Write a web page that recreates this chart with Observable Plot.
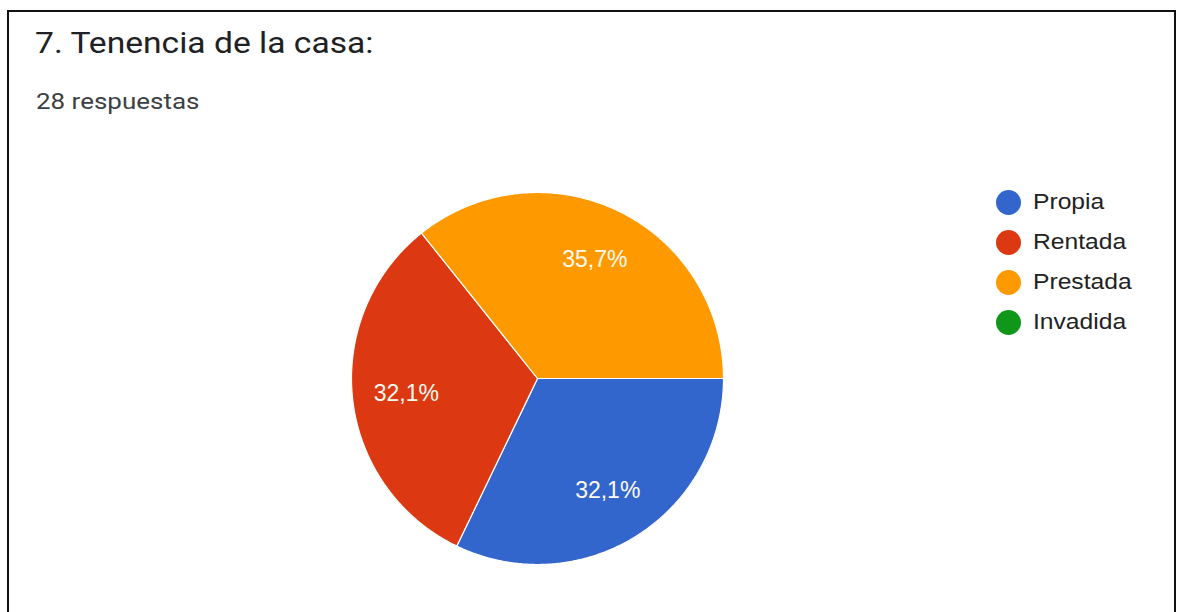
<!DOCTYPE html>
<html>
<head>
<meta charset="utf-8">
<script src="https://cdn.jsdelivr.net/npm/d3@7"></script>
<script src="https://cdn.jsdelivr.net/npm/@observablehq/plot@0.6"></script>
<style>
  html, body { margin: 0; padding: 0; background: #fff; width: 1178px; height: 612px; overflow: hidden; }
  body { position: relative; font-family: Roboto, "Noto Sans", Arial, sans-serif; }
  #frame { position: absolute; left: 7px; top: 10px; width: 1169px; height: 620px; border: 2px solid #111; border-bottom: none; box-sizing: border-box; }
  #title { position: absolute; left: 35px; top: 25px; font-size: 30px; line-height: 1.172; color: #202124; white-space: nowrap; transform: scaleX(1.12); transform-origin: left top; }
  #subtitle { position: absolute; left: 36px; top: 89px; font-size: 22px; line-height: 1.172; color: #3c4043; white-space: nowrap; transform: scaleX(1.18); transform-origin: left top; }
  #chart { position: absolute; left: 0; top: 0; }
  #legend { position: absolute; left: 996px; top: 182px; }
  .item { display: flex; align-items: center; height: 40px; }
  .sw { width: 25px; height: 25px; border-radius: 50%; margin-right: 12px; }
  .lt { font-family: "Liberation Sans", Arial, sans-serif; font-size: 22px; color: #222; display: inline-block; transform: scaleX(1.12); transform-origin: left center; }
</style>
</head>
<body>
<div id="frame"></div>
<div id="title">7. Tenencia de la casa:</div>
<div id="subtitle">28 respuestas</div>
<div id="chart"></div>
<div id="legend"></div>
<script>
// Data
const categories = ["Propia", "Rentada", "Prestada", "Invadida"];
const counts = [9, 9, 10, 0];
const colors = ["#3366cc", "#dc3912", "#ff9900", "#109618"];

const total = d3.sum(counts);
const startAngle = Math.PI / 2; // slices start at 3 o'clock, clockwise

const pie = d3.pie().sort(null).value(d => d.value).startAngle(startAngle).endAngle(startAngle + 2 * Math.PI);
const arcs = pie(categories.map((c, i) => ({cat: c, value: counts[i]})));

// Polygon points for each slice in unit coordinates
const pts = [];
arcs.forEach(a => {
  if (a.endAngle - a.startAngle <= 0) return;
  const cat = a.data.cat;
  pts.push({cat, x: 0, y: 0});
  const n = Math.max(2, Math.ceil((a.endAngle - a.startAngle) / (Math.PI / 360)));
  for (let k = 0; k <= n; k++) {
    const t = a.startAngle + (a.endAngle - a.startAngle) * k / n;
    pts.push({cat, x: Math.sin(t), y: Math.cos(t)});
  }
  pts.push({cat, x: 0, y: 0});
});

const labels = arcs.filter(a => a.value > 0).map(a => {
  const m = (a.startAngle + a.endAngle) / 2;
  return {
    x: 0.71 * Math.sin(m),
    y: 0.71 * Math.cos(m),
    text: (a.value / total * 100).toFixed(1).replace(".", ",") + "%"
  };
});

const cx = 537, cy = 378, r = 186;
const plot = Plot.plot({
  width: 1178,
  height: 612,
  margin: 0,
  x: {domain: [-1, 1], range: [cx - r, cx + r], axis: null},
  y: {domain: [-1, 1], range: [cy + r, cy - r], axis: null},
  color: {domain: categories, range: colors},
  style: {background: "transparent", fontFamily: "'Liberation Sans', Arial, sans-serif"},
  marks: [
    Plot.line(pts, {x: "x", y: "y", z: "cat", fill: "cat", stroke: "white", strokeWidth: 1.2, strokeLinejoin: "round", curve: "linear"}),
    Plot.text(labels, {x: "x", y: "y", text: "text", fill: "#fffaf0", fontSize: 23})
  ]
});
document.getElementById("chart").appendChild(plot);

const legend = document.getElementById("legend");
categories.forEach((c, i) => {
  const it = document.createElement("div");
  it.className = "item";
  const sw = document.createElement("div");
  sw.className = "sw";
  sw.style.background = colors[i];
  const tx = document.createElement("span");
  tx.className = "lt";
  tx.textContent = c;
  it.appendChild(sw);
  it.appendChild(tx);
  legend.appendChild(it);
});
</script>
</body>
</html>
